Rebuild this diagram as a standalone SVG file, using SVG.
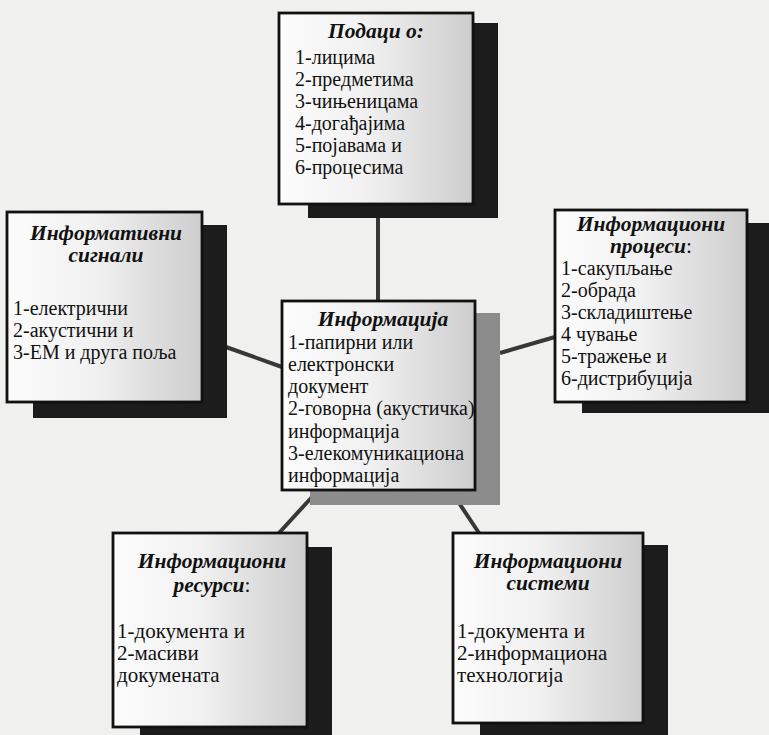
<svg xmlns="http://www.w3.org/2000/svg" width="769" height="735" viewBox="0 0 769 735">
<defs>
<linearGradient id="boxfill" x1="0" y1="0" x2="1" y2="0">
<stop offset="0" stop-color="#fcfcfc"/>
<stop offset="0.45" stop-color="#f1f1f1"/>
<stop offset="1" stop-color="#cdcdcd"/>
</linearGradient>
<style>
.bg{fill:#f0f0ee}
.shadow{fill:#1c1c1c}
.shadow-gray{fill:#8c8c8c}
.box{fill:url(#boxfill);stroke:#111;stroke-width:2.8}
.conn{stroke:#383838;stroke-width:4;fill:none;stroke-linecap:butt}
text{font-family:"Liberation Serif","Times New Roman",serif;fill:#111}
.t{font-size:21.5px;font-weight:bold;font-style:italic;text-anchor:middle}
.i{font-size:21px}
.s{font-size:20px}
</style>
</defs>
<rect class="bg" x="0" y="0" width="769" height="735"/>

<g id="connectors">
<line class="conn" x1="378" y1="217" x2="378" y2="301"/>
<line class="conn" x1="226" y1="347" x2="282" y2="367"/>
<line class="conn" x1="500" y1="353" x2="555" y2="337"/>
<line class="conn" x1="312" y1="497" x2="279" y2="533"/>
<line class="conn" x1="459" y1="503" x2="479" y2="533"/>
</g>

<g id="node-podaci">
<rect class="shadow" x="308" y="23" width="190" height="195"/>
<rect class="box" x="279" y="13" width="194" height="191"/>
<text class="t" x="376" y="38">Подаци о:</text>
<text class="s" x="295" y="64">1-лицима</text>
<text class="s" x="295" y="86">2-предметима</text>
<text class="s" x="295" y="108">3-чињеницама</text>
<text class="s" x="295" y="130">4-догађајима</text>
<text class="s" x="295" y="152">5-појавама и</text>
<text class="s" x="295" y="174">6-процесима</text>
</g>

<g id="node-signali">
<rect class="shadow" x="33" y="225" width="194" height="193"/>
<rect class="box" x="7" y="212" width="195" height="190"/>
<text class="t" x="106" y="240">Информативни</text>
<text class="t" x="106" y="262">сигнали</text>
<text class="s" x="13" y="315">1-електрични</text>
<text class="s" x="13" y="337">2-акустични и</text>
<text class="s" x="13" y="359">3-ЕМ и друга поља</text>
</g>

<g id="node-procesi">
<rect class="shadow" x="582" y="223" width="187" height="190"/>
<rect class="box" x="555" y="210" width="192" height="192"/>
<text class="t" x="651" y="231">Информациони</text>
<text class="t" x="651" y="253"><tspan>процеси</tspan><tspan font-style="normal" font-weight="normal">:</tspan></text>
<text class="s" x="561" y="275">1-сакупљање</text>
<text class="s" x="561" y="297">2-обрада</text>
<text class="s" x="561" y="319">3-складиштење</text>
<text class="s" x="561" y="341">4 чување</text>
<text class="s" x="561" y="363">5-тражење и</text>
<text class="s" x="561" y="385">6-дистрибуција</text>
</g>

<g id="node-informacija">
<rect class="shadow-gray" x="310" y="313" width="190" height="192"/>
<rect class="box" x="282" y="301" width="193" height="189"/>
<text class="t" x="383" y="326">Информација</text>
<text class="s" x="288" y="349">1-папирни или</text>
<text class="s" x="288" y="371">електронски</text>
<text class="s" x="288" y="393">документ</text>
<text class="s" x="288" y="415">2-говорна (акустичка)</text>
<text class="s" x="288" y="438">информација</text>
<text class="s" x="288" y="460">3-елекомуникациона</text>
<text class="s" x="288" y="482">информација</text>
</g>

<g id="node-resursi">
<rect class="shadow" x="140" y="547" width="192" height="200"/>
<rect class="box" x="113" y="533" width="194" height="194"/>
<text class="t" x="212" y="568">Информациони</text>
<text class="t" x="212" y="592"><tspan>ресурси</tspan><tspan font-style="normal" font-weight="normal">:</tspan></text>
<text class="i" x="117" y="638">1-документа и</text>
<text class="i" x="117" y="660">2-масиви</text>
<text class="i" x="117" y="682">докумената</text>
</g>

<g id="node-sistemi">
<rect class="shadow" x="480" y="545" width="188" height="200"/>
<rect class="box" x="453" y="533" width="190" height="190"/>
<text class="t" x="548" y="568">Информациони</text>
<text class="t" x="548" y="590">системи</text>
<text class="i" x="457" y="638">1-документа и</text>
<text class="i" x="457" y="660">2-информациона</text>
<text class="i" x="457" y="682">технологија</text>
</g>
</svg>
